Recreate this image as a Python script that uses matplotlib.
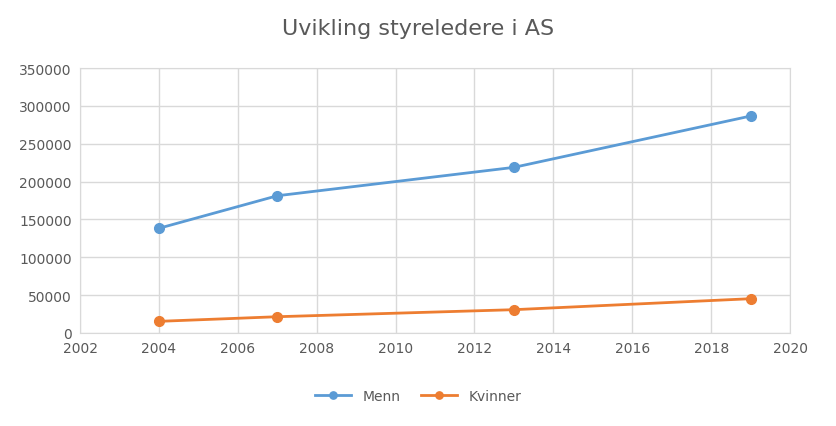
import matplotlib.pyplot as plt

aar = [2004, 2007, 2013, 2019]
menn = [138300, 181300, 218800, 286600]
kvinner = [15400, 21500, 30800, 45300]

fig = plt.figure(figsize=(8.36, 4.27), dpi=100)
ax = fig.add_axes([0.0957, 0.2178, 0.8493, 0.6205])

ax.plot(aar, menn, color='#5B9BD5', lw=2, marker='o', ms=7, label='Menn')
ax.plot(aar, kvinner, color='#ED7D31', lw=2, marker='o', ms=7, label='Kvinner')

ax.set_xlim(2002, 2020)
ax.set_ylim(0, 350000)
ax.set_xticks(range(2002, 2021, 2))
ax.set_yticks(range(0, 350001, 50000))
ax.grid(True, color='#D9D9D9', lw=1)
ax.set_axisbelow(True)
for s in ax.spines.values():
    s.set_color('#D9D9D9')
ax.tick_params(colors='#595959', labelsize=10, length=0, pad=6)

fig.suptitle('Uvikling styreledere i AS', y=0.955, fontsize=16, color='#595959')
fig.legend(loc='center', bbox_to_anchor=(0.5, 0.07), ncol=2, frameon=False,
           fontsize=10, labelcolor='#595959', handlelength=2.6, columnspacing=1.5,
           markerscale=0.75)

fig.savefig('out.png')
